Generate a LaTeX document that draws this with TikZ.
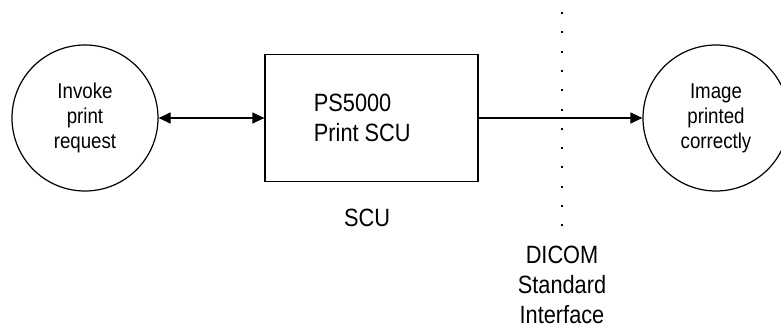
\documentclass[tikz,border=0pt]{standalone}
\usepackage{fontspec}
\setmainfont{Liberation Sans}[FakeStretch=0.87]
\usetikzlibrary{arrows.meta}

\begin{document}
\begin{tikzpicture}[x=1pt,y=-1pt,line width=1.2pt,
  proc/.style={draw,circle,minimum size=146pt,inner sep=0pt,align=center,font=\fontsize{21.5}{25}\selectfont},
  onetip/.style={-{Triangle[length=12pt,width=11pt]}},
  bothtip/.style={{Triangle[length=12pt,width=11pt]}-{Triangle[length=12pt,width=11pt]}},
  lbl/.style={align=center,font=\fontsize{25}{30}\selectfont}]
%\draw[step=10pt,gray,very thin] (0,0) grid (781,329);
\useasboundingbox (0,0) rectangle (781,329);
\node[proc] (invoke) at (85,118) {Invoke\\print\\request};
\node[draw,minimum width=213pt,minimum height=127pt,inner sep=0pt] (scu) at (371.5,118) {};
\node[lbl,align=left,anchor=west] (scutext) at (310,118) {PS5000\\Print SCU};
\node[proc] (printed) at (716,118) {Image\\printed\\correctly};
\draw[bothtip] (invoke) -- (scu);
\draw[onetip] (scu) -- (printed);
\coordinate (ifacetop) at (562,12);
\coordinate (ifacebot) at (562,229);
\draw[dash pattern=on 2pt off 17.3pt] (ifacetop) -- (ifacebot);
\node[lbl] (scunote) at (367,218) {SCU};
\node[lbl,inner sep=0pt] (dicom) at (562,285) {DICOM\\Standard\\Interface};
\end{tikzpicture}
\end{document}
